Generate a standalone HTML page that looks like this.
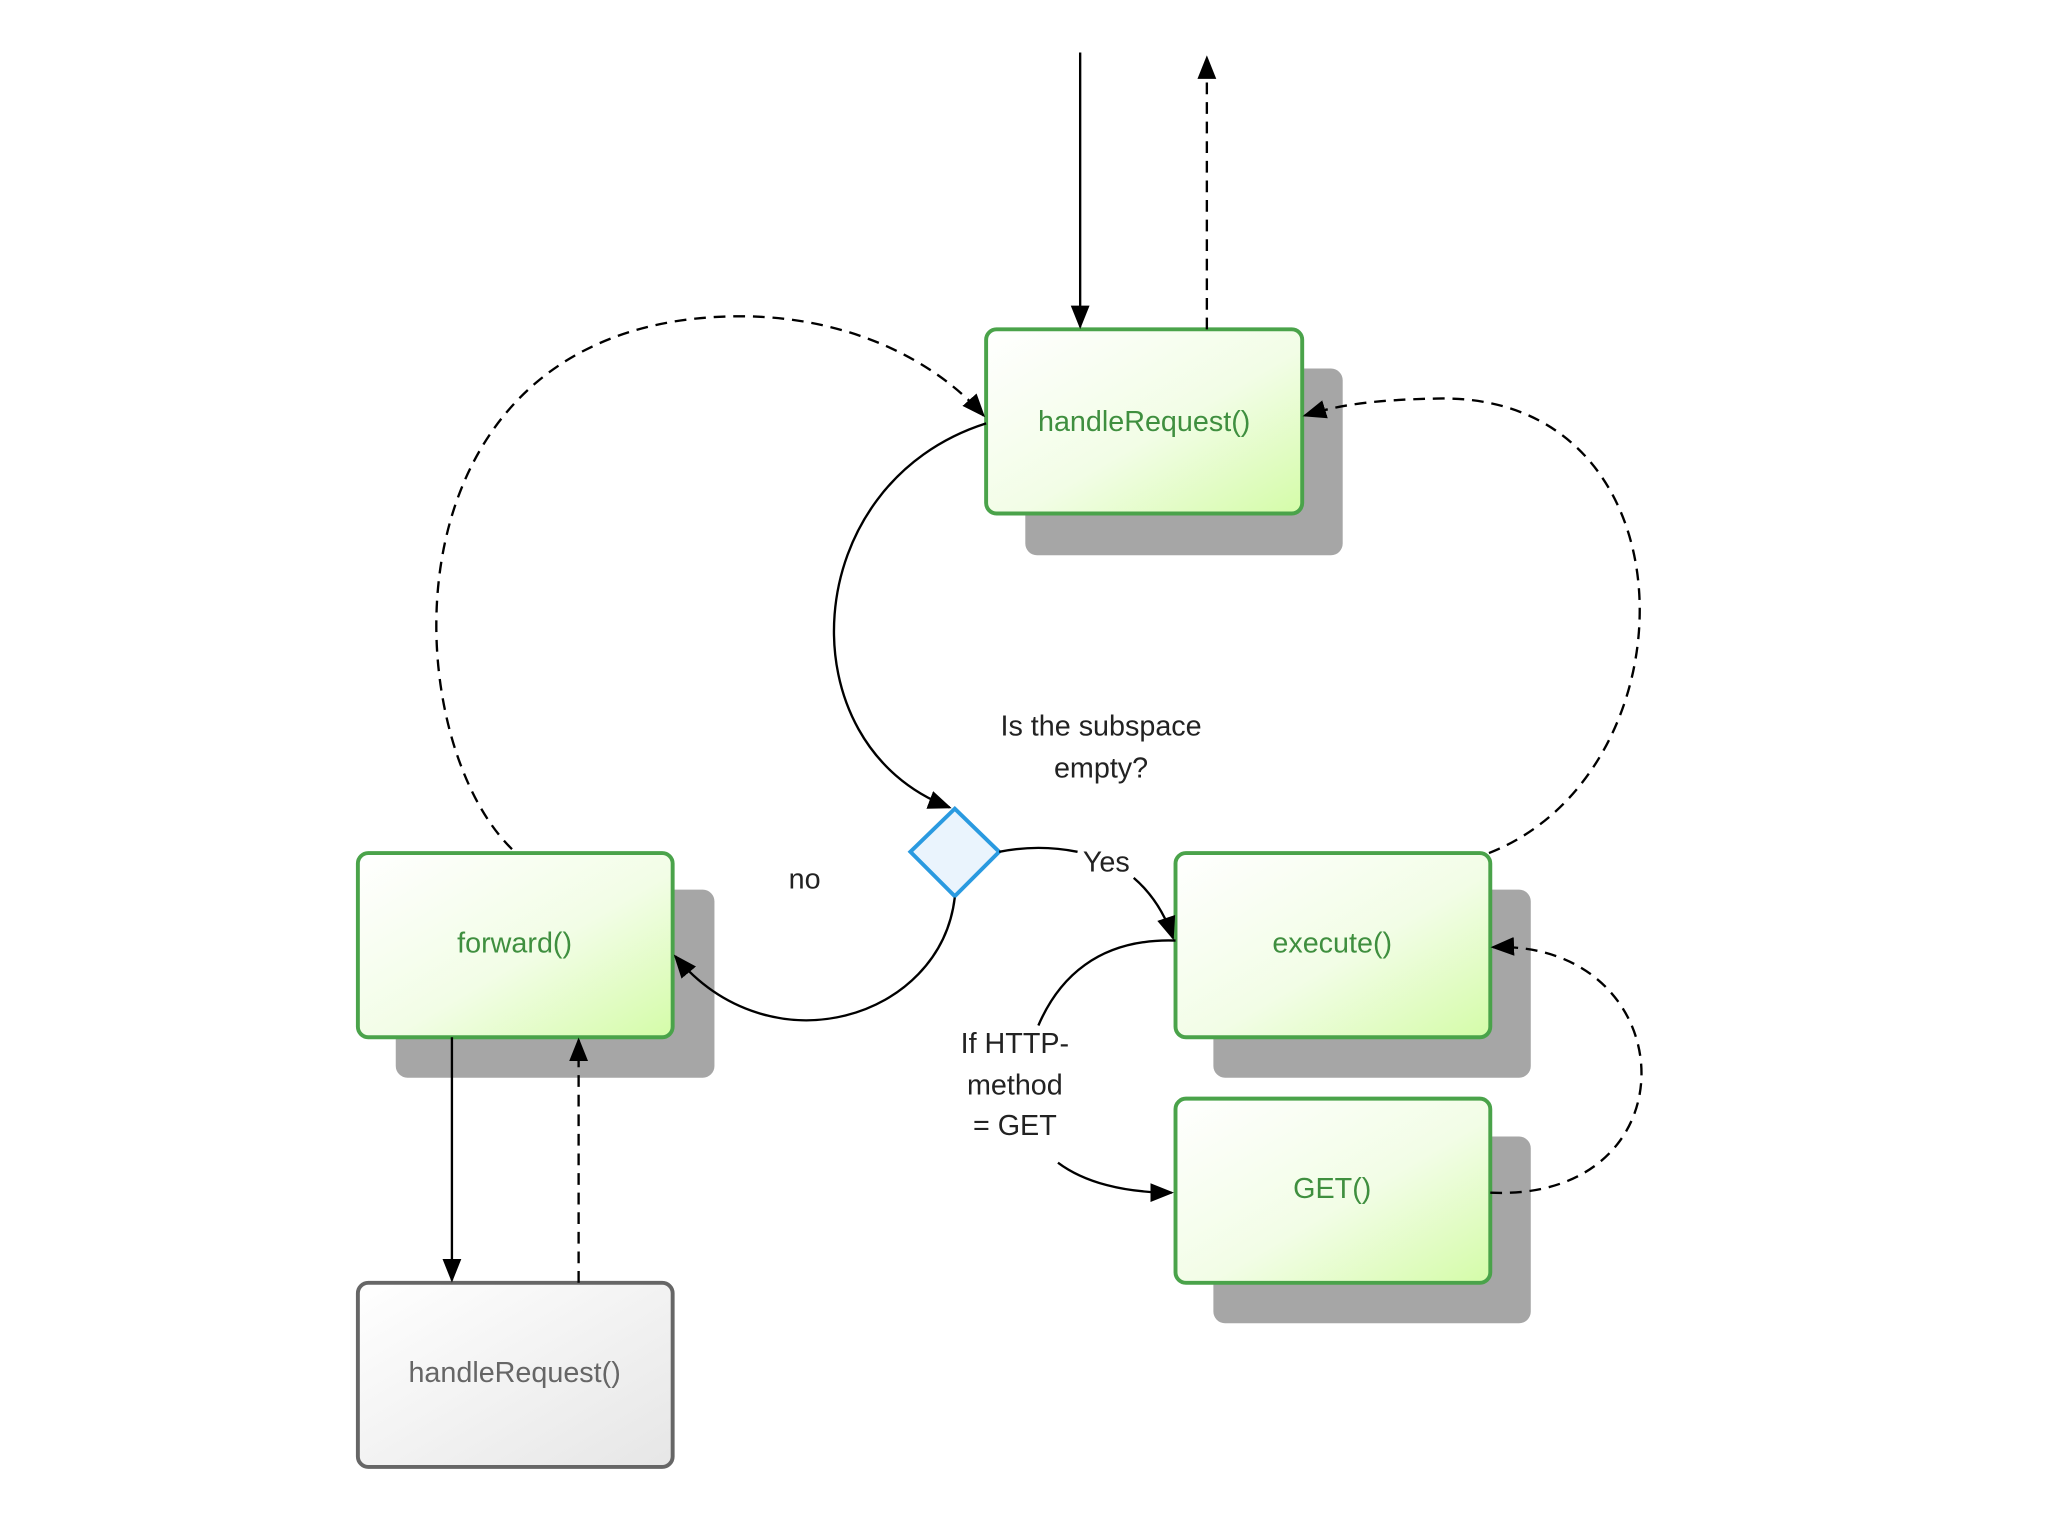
<!DOCTYPE html>
<html><head><meta charset="utf-8"><style>
html,body{margin:0;padding:0;background:#fff;}
svg{display:block;}
text{font-family:"Liberation Sans",Arial,sans-serif;}
</style></head><body>
<svg width="2048" height="1539" viewBox="0 0 1568 1178" xmlns="http://www.w3.org/2000/svg">
<defs>
<linearGradient id="g" x1="0" y1="0" x2="1" y2="1">
<stop offset="0" stop-color="#ffffff"/><stop offset="0.55" stop-color="#f2fde6"/><stop offset="1" stop-color="#d4fca8"/>
</linearGradient>
<linearGradient id="gg" x1="0" y1="0" x2="1" y2="1">
<stop offset="0" stop-color="#ffffff"/><stop offset="1" stop-color="#e6e6e6"/>
</linearGradient>
<marker id="a" viewBox="0 0 10 10" refX="9" refY="5" markerWidth="9" markerHeight="9" markerUnits="userSpaceOnUse" orient="auto">
<path d="M0,0 L10,5 L0,10 z" fill="#000"/></marker>
<marker id="b" viewBox="0 0 10 10" refX="9" refY="5" markerWidth="18" markerHeight="18" markerUnits="userSpaceOnUse" orient="auto">
<path d="M0,1 L10,5 L0,9 z" fill="#000"/></marker>
</defs>
<!-- shadows -->
<rect x="785" y="282" width="243" height="143" rx="9" fill="#a6a6a6"/>
<rect x="303" y="681" width="244" height="144" rx="9" fill="#a6a6a6"/>
<rect x="929" y="681" width="243" height="144" rx="9" fill="#a6a6a6"/>
<rect x="929" y="870" width="243" height="143" rx="9" fill="#a6a6a6"/>
<!-- boxes -->
<rect x="755" y="252" width="242" height="141" rx="8" fill="url(#g)" stroke="#4aa34a" stroke-width="3"/>
<rect x="274" y="653" width="241" height="141" rx="8" fill="url(#g)" stroke="#4aa34a" stroke-width="3"/>
<rect x="900" y="653" width="241" height="141" rx="8" fill="url(#g)" stroke="#4aa34a" stroke-width="3"/>
<rect x="900" y="841" width="241" height="141" rx="8" fill="url(#g)" stroke="#4aa34a" stroke-width="3"/>
<rect x="274" y="982" width="241" height="141" rx="8" fill="url(#gg)" stroke="#666" stroke-width="3"/>
<!-- diamond -->
<path d="M731,619 L765,652 L731,686 L697,652 z" fill="#eaf4fd" stroke="#2a9ae0" stroke-width="3"/>
<g fill="none" stroke="#000" stroke-width="1.8">
<line x1="827" y1="40" x2="827" y2="250" marker-end="url(#b)"/>
<line x1="924" y1="252" x2="924" y2="44" stroke-dasharray="9,6" marker-end="url(#b)"/>
<path d="M392,650 C300,560 290,240 570,242 C650,243 715,275 753,318" stroke-dasharray="9,6" marker-end="url(#b)"/>
<path d="M755,324 C610,370 600,570 727,618" marker-end="url(#b)"/>
<path d="M765,652 C785,648 805,648 825,652"/>
<path d="M868,672 C882,684 892,700 898,718" marker-end="url(#b)"/>
<path d="M731,687 C720,780 590,820 517,732" marker-end="url(#b)"/>
<path d="M1140,653 C1300,590 1300,300 1100,305 C1050,306 1025,310 999,318" stroke-dasharray="9,6" marker-end="url(#b)"/>
<path d="M900,720 C840,718 810,750 795,785"/>
<path d="M810,890 C830,905 860,913 897,913" marker-end="url(#b)"/>
<path d="M1141,913 C1300,920 1290,720 1143,725" stroke-dasharray="9,6" marker-end="url(#b)"/>
<line x1="346" y1="794" x2="346" y2="980" marker-end="url(#b)"/>
<line x1="443" y1="982" x2="443" y2="796" stroke-dasharray="9,6" marker-end="url(#b)"/>
</g>
<g font-size="22" text-anchor="middle">
<text x="876" y="330" fill="#3f8f3f">handleRequest()</text>
<text x="394" y="729" fill="#3f8f3f">forward()</text>
<text x="1020" y="729" fill="#3f8f3f">execute()</text>
<text x="1020" y="917" fill="#3f8f3f">GET()</text>
<text x="394" y="1058" fill="#666">handleRequest()</text>
<text x="843" y="563" fill="#222">Is the subspace</text>
<text x="843" y="595" fill="#222">empty?</text>
<text x="847" y="667" fill="#222">Yes</text>
<text x="616" y="680" fill="#222">no</text>
<text x="777" y="806" fill="#222">If HTTP-</text>
<text x="777" y="838" fill="#222">method</text>
<text x="777" y="869" fill="#222">= GET</text>
</g>
</svg>
</body></html>
